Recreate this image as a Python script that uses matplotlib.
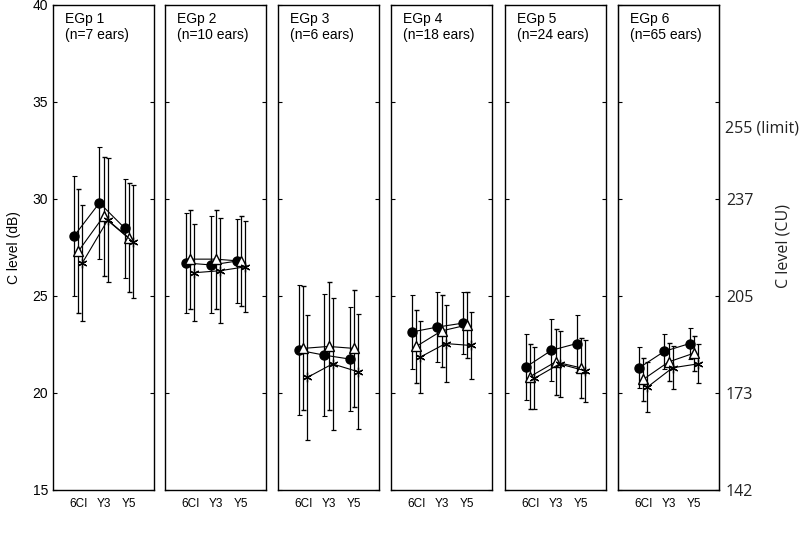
import numpy as np
import matplotlib
matplotlib.use("Agg")
import matplotlib.pyplot as plt

plt.rcParams['font.family'] = ['Liberation Sans', 'DejaVu Sans']

# ---- data ----
groups = ["EGp 1", "EGp 2", "EGp 3", "EGp 4", "EGp 5", "EGp 6"]
n_ears = ["(n=7 ears)", "(n=10 ears)", "(n=6 ears)", "(n=18 ears)", "(n=24 ears)", "(n=65 ears)"]
timepoints = ["6CI", "Y3", "Y5"]

circle_mean = [[28.1, 29.8, 28.5], [26.7, 26.6, 26.8], [22.2, 21.95, 21.75],
               [23.15, 23.4, 23.6], [21.35, 22.2, 22.55], [21.3, 22.15, 22.55]]
circle_sd = [[3.1, 2.9, 2.55], [2.6, 2.5, 2.15], [3.35, 3.15, 2.7],
             [1.9, 1.8, 1.6], [1.7, 1.6, 1.45], [1.05, 0.9, 0.8]]
tri_mean = [[27.3, 29.1, 28.0], [26.9, 26.9, 26.8], [22.3, 22.4, 22.3],
            [22.4, 23.2, 23.5], [20.85, 21.6, 21.3], [20.7, 21.6, 22.05]]
tri_sd = [[3.2, 3.05, 2.8], [2.55, 2.55, 2.3], [3.2, 3.3, 3.0],
          [1.9, 1.85, 1.7], [1.7, 1.7, 1.55], [1.1, 1.0, 0.9]]
star_mean = [[26.7, 28.9, 27.8], [26.2, 26.3, 26.5], [20.8, 21.5, 21.1],
             [21.85, 22.55, 22.45], [20.75, 21.5, 21.15], [20.3, 21.3, 21.5]]
star_sd = [[3.0, 3.2, 2.9], [2.5, 2.7, 2.35], [3.2, 3.4, 2.95],
           [1.85, 2.0, 1.75], [1.6, 1.7, 1.6], [1.3, 1.1, 1.0]]

cu_ticks = [15, 20, 25, 30, 35]
cu_labels = ["142", "173", "205", "237", ""]
limit_label = "255 (limit)"
limit_pos = 33.65

W, H = 800, 535
fig = plt.figure(figsize=(8, 5.35), dpi=100)

lefts = [53, 165, 278, 391, 505, 618]
pw = 101
bottom_px, top_px = 490, 5

series = [
    (circle_mean, circle_sd, -0.16, dict(marker='o', mfc='black', mec='black', ms=6.5)),
    (tri_mean, tri_sd, 0.0, dict(marker='^', mfc='white', mec='black', ms=6.5, mew=1.0)),
    (star_mean, star_sd, 0.16, dict(marker=(6, 2, 0), mfc='black', mec='black', ms=7, mew=0.9)),
]

x = np.arange(1, 4)
axes = []
for i, left in enumerate(lefts):
    ax = fig.add_axes([left / W, 1 - bottom_px / H, pw / W, (bottom_px - top_px) / H])
    for mean, sd, off, mk in series:
        ax.errorbar(x + off, mean[i], yerr=sd[i], color='black', lw=0.8,
                    elinewidth=0.9, capsize=1.8, capthick=0.8, **mk)
    ax.set_xlim(0, 4)
    ax.set_ylim(15, 40)
    ax.set_xticks(x)
    ax.set_xticklabels(timepoints, fontsize=8.5)
    ax.tick_params(axis='x', length=0, pad=6)
    ax.set_yticks([15, 20, 25, 30, 35, 40])
    ax.tick_params(axis='y', direction='in', left=True, right=True, length=3, labelsize=10)
    if i > 0:
        ax.set_yticklabels([])
    for s in ax.spines.values():
        s.set_linewidth(1.0)
    ax.text(0.12, 0.985, groups[i] + "\n" + n_ears[i], transform=ax.transAxes,
            ha='left', va='top', fontsize=10, linespacing=1.15)
    axes.append(ax)

axes[0].set_ylabel("C level (dB)", fontsize=10, labelpad=8)

# right-hand current-unit axis
axr = axes[-1].twinx()
axr.set_ylim(15, 40)
axr.set_yticks(cu_ticks)
axr.set_yticklabels(cu_labels, fontsize=11.5, color='#222222', family='Open Sans')
axr.tick_params(axis='y', direction='in', length=3, pad=5)
axr.text(1.055, limit_pos, limit_label, transform=axr.get_yaxis_transform(),
         ha='left', va='center', fontsize=11.5, color='#222222', family='Open Sans')
fig.text(784 / W, 1 - 246 / H, "C level (CU)", rotation=90, ha='center', va='center',
         fontsize=11.5, color='#222222', family='Open Sans')

fig.savefig("out.png", dpi=100)
